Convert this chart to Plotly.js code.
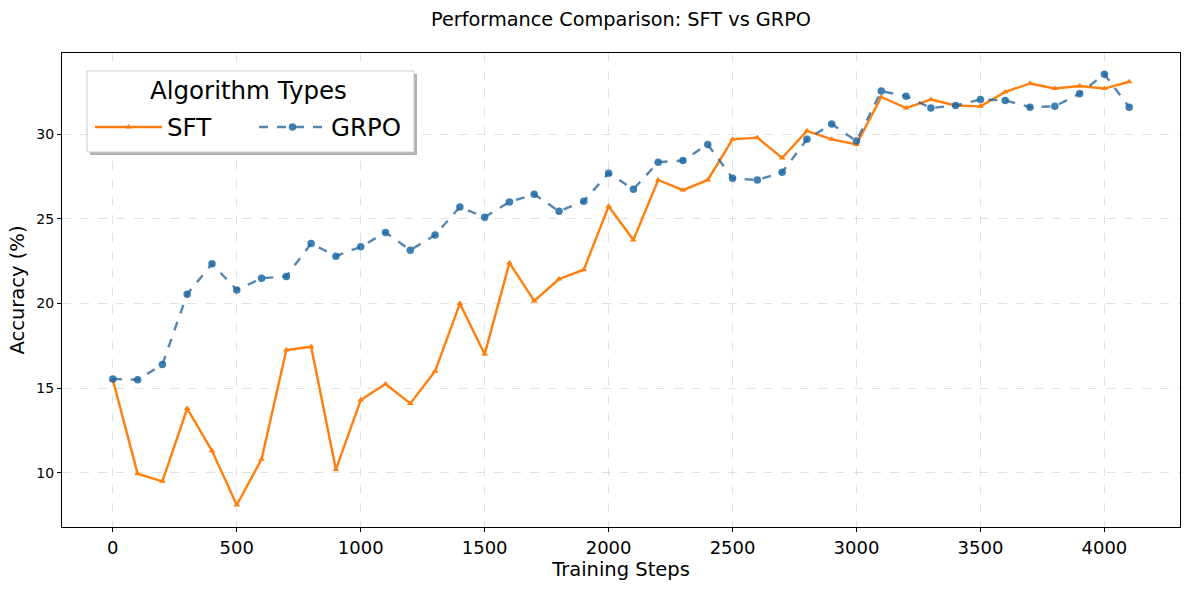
<!DOCTYPE html>
<html>
<head>
<meta charset="utf-8">
<script src="https://cdn.plot.ly/plotly-3.0.1.min.js"></script>
<style>html,body{margin:0;padding:0;background:#fff;}#chart{width:1189px;height:590px;}</style>
</head>
<body>
<div id="chart"></div>
<script>
const steps = [0,100,200,300,400,500,600,700,800,900,1000,1100,1200,1300,1400,1500,1600,1700,1800,1900,2000,2100,2200,2300,2400,2500,2600,2700,2800,2900,3000,3100,3200,3300,3400,3500,3600,3700,3800,3900,4000,4100];
const sftAcc = [15.5,9.95,9.5,13.8,11.3,8.1,10.8,17.25,17.45,10.2,14.3,15.25,14.1,16.0,20.0,17.0,22.4,20.15,21.45,22.0,25.75,23.75,27.3,26.7,27.3,29.7,29.8,28.6,30.2,29.7,29.4,32.2,31.55,32.05,31.7,31.65,32.5,33.0,32.7,32.85,32.7,33.1];
const grpoAcc = [15.55,15.5,16.4,20.55,22.35,20.8,21.5,21.6,23.55,22.8,23.35,24.2,23.15,24.05,25.7,25.1,26.0,26.45,25.45,26.05,27.7,26.75,28.35,28.45,29.4,27.4,27.3,27.75,29.7,30.6,29.6,32.55,32.25,31.55,31.7,32.05,32.0,31.6,31.65,32.4,33.55,31.6];
const xTicks = [0,500,1000,1500,2000,2500,3000,3500,4000];
const yTicks = [10,15,20,25,30];

const traces = [
  {x: steps, y: sftAcc, name: 'SFT', type: 'scatter', mode: 'lines+markers',
   line: {color: '#ff7f0e', width: 2.4},
   marker: {symbol: 'triangle-up', size: 6, color: '#ff7f0e'}},
  {x: steps, y: grpoAcc, name: 'GRPO', type: 'scatter', mode: 'lines+markers',
   line: {color: 'rgba(40,100,150,0.78)', width: 2.4, dash: 'dash'},
   marker: {symbol: 'circle', size: 7.5, color: 'rgba(31,105,165,0.85)'}}
];

const font = 'DejaVu Sans, sans-serif';
const W = 1118, H = 474, L = 62, T = 53;
function px(x){return (x - L)/W;}
function py(y){return (T + H - y)/H;}

const layout = {
  width: 1189, height: 590,
  margin: {l: 62, r: 9, t: 53, b: 63},
  paper_bgcolor: '#fff', plot_bgcolor: '#fff',
  font: {family: font, color: '#000'},
  title: {text: 'Performance Comparison: SFT vs GRPO', font: {size: 19.3, family: font}, x: 0.5, xref: 'paper', xanchor: 'center', y: 0.968, yanchor: 'middle'},
  xaxis: {
    range: [-205, 4305], tickvals: xTicks, ticktext: xTicks.map(String),
    tickfont: {size: 18}, ticks: 'outside', ticklen: 4, tickcolor: '#000',
    showline: true, linecolor: '#000', linewidth: 1, mirror: true,
    showgrid: true, gridcolor: 'rgba(0,0,0,0.14)', griddash: 'dash', gridwidth: 0.8,
    zeroline: false,
    title: {text: 'Training Steps', font: {size: 19.5}, standoff: 4}
  },
  yaxis: {
    range: [6.8, 34.8], tickvals: yTicks, ticktext: yTicks.map(String),
    tickfont: {size: 14}, ticks: 'outside', ticklen: 4, tickcolor: '#000',
    showline: true, linecolor: '#000', linewidth: 1, mirror: true,
    showgrid: true, gridcolor: 'rgba(0,0,0,0.14)', griddash: 'dash', gridwidth: 0.8,
    zeroline: false,
    title: {text: 'Accuracy (%)', font: {size: 19.5}, standoff: 6}
  },
  showlegend: true,
  legend: {
    orientation: 'h', x: px(90), xanchor: 'left', y: py(127), yanchor: 'middle',
    bgcolor: 'rgba(0,0,0,0)', borderwidth: 0,
    font: {size: 24.5, family: font},
    entrywidth: 82, entrywidthmode: 'pixels', itemwidth: 67
  },
  annotations: [
    {text: 'Algorithm Types', xref: 'paper', yref: 'paper', x: px(248), y: py(90),
     xanchor: 'center', yanchor: 'middle', showarrow: false, font: {size: 24.5, family: font}}
  ],
  shapes: [
    {type: 'rect', xref: 'paper', yref: 'paper', x0: px(90), x1: px(417), y0: py(74), y1: py(155),
     fillcolor: 'rgba(0,0,0,0.3)', line: {width: 0}, layer: 'above'},
    {type: 'rect', xref: 'paper', yref: 'paper', x0: px(87), x1: px(414), y0: py(71), y1: py(152),
     fillcolor: '#fff', line: {color: '#cccccc', width: 1}, layer: 'above'}
  ]
};

Plotly.newPlot('chart', traces, layout, {displayModeBar: false, staticPlot: true});
</script>
</body>
</html>
